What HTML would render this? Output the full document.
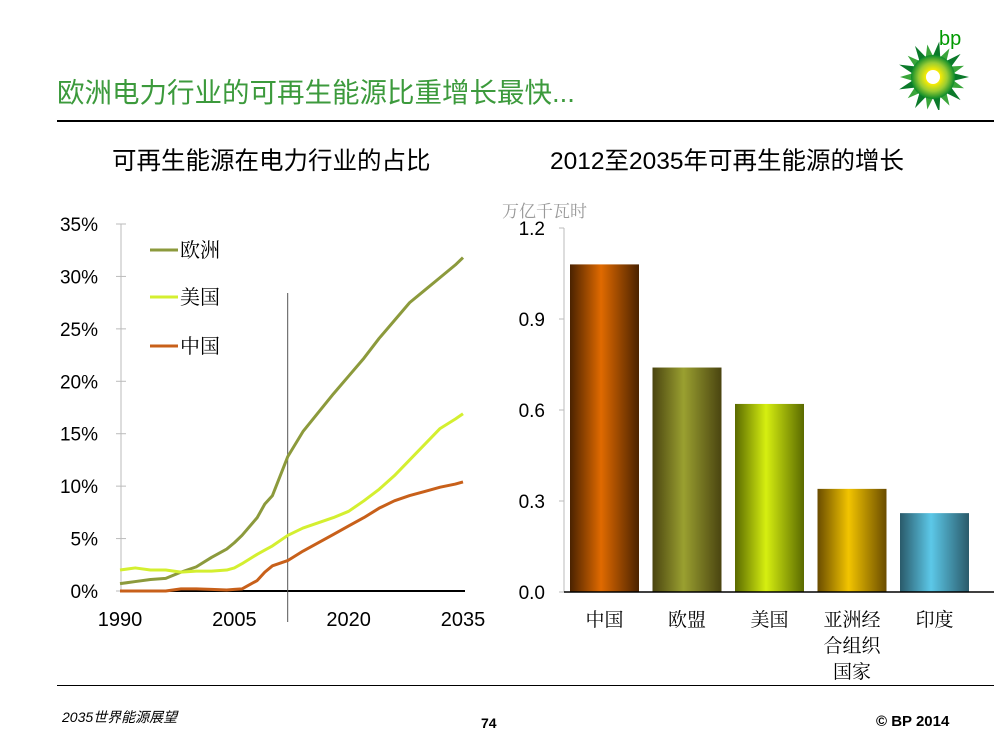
<!DOCTYPE html>
<html><head><meta charset="utf-8">
<style>
body{margin:0;width:1000px;height:750px;background:#fff;overflow:hidden;position:relative;font-family:"Liberation Sans","Noto Sans CJK SC",sans-serif}
.abs{position:absolute}
</style></head><body>
<div class="abs" style="left:57px;top:70px;font-size:27.5px;color:#3c9a3c;white-space:nowrap;font-family:'Liberation Sans','Noto Sans CJK SC',sans-serif">欧洲电力行业的可再生能源比重增长最快...</div>
<div class="abs" style="left:57px;top:120px;width:937px;height:2px;background:#000"></div>
<svg class="abs" style="left:895px;top:25px" width="80" height="85" viewBox="0 0 80 85">
<defs><radialGradient id="sun"><stop offset="0" stop-color="#fff"/><stop offset="0.3" stop-color="#ffee00"/><stop offset="0.65" stop-color="#9c3"/><stop offset="1" stop-color="#0a8a2a"/></radialGradient></defs>
<text x="44" y="20" font-size="20" fill="#090" font-family="Liberation Sans">bp</text>
<g id="petals"></g>
<circle cx="38" cy="52" r="22" fill="url(#sun)"/>
<circle cx="38" cy="52" r="7" fill="#fff"/>
</svg>
<div class="abs" style="left:112px;top:142px;font-size:24.5px;color:#000;white-space:nowrap">可再生能源在电力行业的占比</div>
<div class="abs" style="left:550px;top:142px;font-size:24.5px;color:#000;white-space:nowrap">2012至2035年可再生能源的增长</div>
<div class="abs" style="left:502px;top:197px;font-size:17px;color:#999;font-family:'Liberation Serif','Noto Serif CJK SC',serif">万亿千瓦时</div>
<svg class="abs" id="chart" style="left:0;top:0" width="1000" height="750"></svg>
<div class="abs" style="left:57px;top:685px;width:937px;height:1px;background:#000"></div>
<div class="abs" style="left:62px;top:707px;font-size:14px;font-style:italic">2035世界能源展望</div>
<div class="abs" style="left:481px;top:715px;font-size:14px;font-weight:bold">74</div>
<div class="abs" style="left:876px;top:713px;font-size:15px;font-weight:bold">© BP 2014</div>
<script>
const years=[1990,1992,1994,1996,1998,2000,2002,2004,2005,2006,2008,2009,2010,2012,2014,2016,2018,2020,2022,2024,2026,2028,2030,2032,2034,2035];
const europe=[0.7,0.9,1.1,1.2,1.8,2.3,3.2,4.0,4.6,5.3,7.0,8.3,9.1,12.8,15.2,17.0,18.8,20.5,22.2,24.1,25.8,27.5,28.7,29.9,31.1,31.8];
const usa=[2.0,2.2,2.0,2.0,1.8,1.9,1.9,2.0,2.2,2.6,3.5,3.9,4.3,5.3,6.0,6.5,7.0,7.6,8.6,9.7,11.0,12.5,14.0,15.5,16.4,16.9];
const china=[0,0,0,0,0.2,0.2,0.15,0.1,0.15,0.2,1.0,1.8,2.4,2.9,3.8,4.6,5.4,6.2,7.0,7.9,8.6,9.1,9.5,9.9,10.2,10.4];
const yTicksL=[0,5,10,15,20,25,30,35];
const xTicksL=[1990,2005,2020,2035];
const cats=["中国","欧盟","美国","亚洲经合组织国家","印度"];
const catLines=[["中国"],["欧盟"],["美国"],["亚洲经","合组织","国家"],["印度"]];
const growth=[1.08,0.74,0.62,0.34,0.26];
const yTicksR=[0.0,0.3,0.6,0.9,1.2];
const NS="http://www.w3.org/2000/svg";
const svg=document.getElementById('chart');
function mk(t,a,p){const e=document.createElementNS(NS,t);for(const k in a)e.setAttribute(k,a[k]);(p||svg).appendChild(e);return e;}
const pet=document.getElementById('petals');
for(let i=0;i<18;i++){const a=i*20*Math.PI/180;const R=i%2?33:36;const x=38+Math.cos(a)*R,y=52+Math.sin(a)*R;const a1=a+0.2,a2=a-0.2;
mk('polygon',{points:`${38+Math.cos(a1)*20},${52+Math.sin(a1)*20} ${x},${y} ${38+Math.cos(a2)*20},${52+Math.sin(a2)*20}`,fill:i%2?'#3aa53a':'#0b7a2a'},pet);}
const xL=y=>120+(y-1990)*(463-120)/45;
const yL=v=>591-v*(591-224)/35;
mk('line',{x1:121,y1:224,x2:121,y2:591,stroke:'#bbb','stroke-width':1});
yTicksL.forEach(t=>{mk('line',{x1:116,y1:yL(t),x2:126,y2:yL(t),stroke:'#bbb'});
const tx=mk('text',{x:98,y:yL(t)+7,'text-anchor':'end','font-size':19,'font-family':'Liberation Sans'});tx.textContent=t+'%';

});
mk('line',{x1:120,y1:591,x2:465,y2:591,stroke:'#000','stroke-width':2});
xTicksL.forEach(t=>{const tx=mk('text',{x:xL(t),y:626,'text-anchor':'middle','font-size':20,'font-family':'Liberation Sans'});tx.textContent=t;

});
mk('line',{x1:xL(2012),y1:293,x2:xL(2012),y2:622,stroke:'#555','stroke-width':1});
function series(d,c,n){const p=mk('polyline',{points:years.map((y,i)=>xL(y)+','+yL(d[i])).join(' '),fill:'none',stroke:c,'stroke-width':3,'stroke-linejoin':'round'});

}
series(europe,'#8c9a3c','europe-line');series(usa,'#d4ef30','usa-line');series(china,'#c8601a','china-line');
[['欧洲','#8c9a3c',250],['美国','#d4ef30',297],['中国','#c8601a',346]].forEach(l=>{
mk('line',{x1:150,y1:l[2],x2:178,y2:l[2],stroke:l[1],'stroke-width':3});
const tx=mk('text',{x:180,y:l[2]+7,'font-size':20,'font-family':'Liberation Serif, Noto Serif CJK SC, serif'});tx.textContent=l[0];

});
const yR=v=>592-v*(592-228)/1.2;
const xR=i=>570+i*82.5;
const grads=[['#4a2200','#e06a00'],['#4a4410','#9aa030'],['#5a6a00','#d6ef10'],['#6a4c00','#f2c400'],['#2a5a6a','#5cc8e8']];
const defs=mk('defs',{});
grads.forEach((g,i)=>{const lg=mk('linearGradient',{id:'g'+i,x1:0,x2:1,y1:0,y2:0},defs);
mk('stop',{offset:0,'stop-color':g[0]},lg);mk('stop',{offset:0.45,'stop-color':g[1]},lg);mk('stop',{offset:1,'stop-color':g[0]},lg);});
mk('line',{x1:564,y1:228,x2:564,y2:592,stroke:'#bbb'});
yTicksR.forEach(t=>{mk('line',{x1:559,y1:yR(t),x2:564,y2:yR(t),stroke:'#bbb'});
const tx=mk('text',{x:545,y:yR(t)+7,'text-anchor':'end','font-size':19,'font-family':'Liberation Sans'});tx.textContent=t.toFixed(1);

});
growth.forEach((v,i)=>{const r=mk('rect',{x:xR(i),y:yR(v),width:69,height:yR(0)-yR(v),fill:'url(#g'+i+')'});


catLines[i].forEach((s,j)=>{const tx=mk('text',{x:xR(i)+34.5,y:626+j*26,'text-anchor':'middle','font-size':19,'font-family':'Liberation Serif, Noto Serif CJK SC, serif'});tx.textContent=s;

});});
mk('line',{x1:564,y1:592,x2:994,y2:592,stroke:'#000','stroke-width':1.5});
</script>
</body></html>
